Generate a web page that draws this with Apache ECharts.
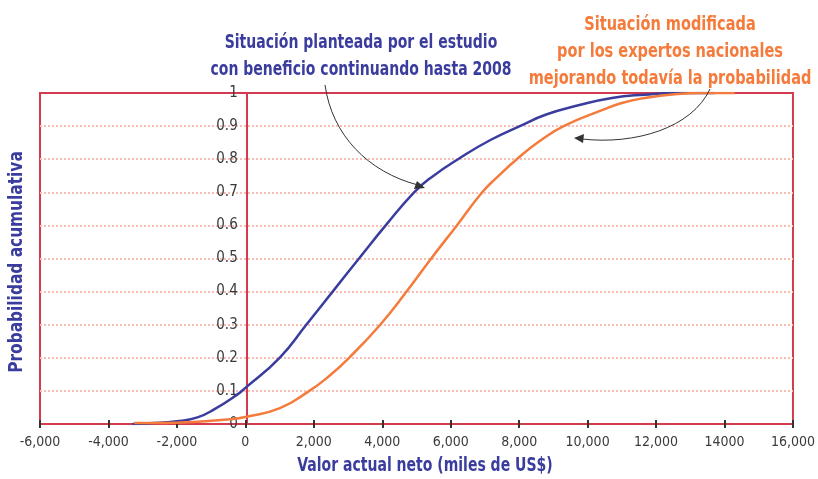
<!DOCTYPE html>
<html>
<head>
<meta charset="utf-8">
<script src="https://cdn.jsdelivr.net/npm/echarts@6/dist/echarts.min.js"></script>
<style>
  html, body { margin: 0; padding: 0; background: #fff; }
  #main { width: 818px; height: 479px; }
</style>
</head>
<body>
<div id="main"></div>
<script>
// eje x en miles de US$, eje y probabilidad acumulada
var xMin = -6000, xMax = 16000, xStep = 2000;
var xTickLabels = ['-6,000', '-4,000', '-2,000', '0', '2,000', '4,000', '6,000', '8,000', '10,000', '12,000', '14000', '16,000'];
var yTickLabels = ['0', '0.1', '0.2', '0.3', '0.4', '0.5', '0.6', '0.7', '0.8', '0.9', '1'];

// Situación planteada por el estudio (azul)
var planteadaX = [-3300, -2800, -2000, -1400, -900, -250, 0, 1000, 1780, 2550, 3320, 4100, 4930, 5430, 6290, 7160, 8020, 8790, 9700, 10710, 11670, 12630, 13700];
var planteadaY = [0, 0.002, 0.008, 0.02, 0.045, 0.088, 0.109, 0.2, 0.3, 0.4, 0.5, 0.6, 0.7, 0.745, 0.805, 0.858, 0.9, 0.935, 0.962, 0.985, 0.995, 1, 1];

// Situación modificada por los expertos (naranja)
var modificadaX = [-3250, -2400, -1400, -430, 0, 1010, 1870, 2450, 3030, 3940, 4710, 5430, 6180, 6920, 7350, 7930, 8600, 9300, 10420, 11000, 11670, 12630, 13300, 14300];
var modificadaY = [0.003, 0.003, 0.007, 0.014, 0.021, 0.048, 0.1, 0.145, 0.2, 0.3, 0.4, 0.5, 0.6, 0.7, 0.745, 0.8, 0.855, 0.9, 0.948, 0.97, 0.985, 0.997, 1, 1];

var RED = '#d43a4e';
var BLUE = '#3a3c9e';
var ORANGE = '#f47b3b';
var FONT = '"Liberation Sans Narrow", "DejaVu Sans Condensed", sans-serif';

var W = 818, H = 479;
var gridLeft = 40, gridRight = 20;
// el eje y se dibuja sobre x = 0
var yAxisOffset = -(W - gridLeft - gridRight) * (0 - xMin) / (xMax - xMin);

function pairs(xs, ys) {
  return xs.map(function (x, i) { return [x, ys[i]]; });
}

var chart = echarts.init(document.getElementById('main'));

var option = {
  backgroundColor: '#fff',
  animation: false,
  grid: {
    left: gridLeft, right: gridRight, top: 93, bottom: 55,
    show: true, borderColor: RED, borderWidth: 2, backgroundColor: 'transparent'
  },
  xAxis: [
    {
      type: 'value', min: xMin, max: xMax, interval: xStep,
      axisLine: { onZero: false, lineStyle: { color: RED, width: 2 } },
      axisTick: { show: true, length: 4, lineStyle: { color: '#333', width: 2 } },
      axisLabel: {
        fontFamily: FONT, fontSize: 14, color: '#3a3a3a', margin: 11,
        formatter: function (v) { return xTickLabels[Math.round((v - xMin) / xStep)]; }
      },
      splitLine: { show: false }
    },
    {
      type: 'value', min: xMin, max: xMax, interval: xStep, position: 'bottom',
      axisLine: { show: false, onZero: false },
      axisTick: { show: true, inside: true, length: 4, lineStyle: { color: '#333', width: 2 } },
      axisLabel: { show: false },
      splitLine: { show: false }
    }
  ],
  yAxis: {
    type: 'value', min: 0, max: 1, interval: 0.1, position: 'left', offset: yAxisOffset,
    axisLine: { show: true, onZero: false, lineStyle: { color: RED, width: 2 } },
    axisTick: { show: false },
    axisLabel: {
      fontFamily: FONT, fontSize: 15, color: '#3a3a3a', margin: 9,
      formatter: function (v) { return yTickLabels[Math.round(v * 10)]; }
    },
    splitLine: {
      show: true, showMinLine: false, showMaxLine: false,
      lineStyle: { color: '#f6bdb5', type: 'dotted', width: 2 }
    }
  },
  series: [
    {
      name: 'planteada', type: 'line', data: pairs(planteadaX, planteadaY),
      smooth: 0.5, showSymbol: false,
      lineStyle: { color: BLUE, width: 2.5 }, z: 3
    },
    {
      name: 'modificada', type: 'line', data: pairs(modificadaX, modificadaY),
      smooth: 0.5, showSymbol: false,
      lineStyle: { color: ORANGE, width: 2.5 }, z: 4
    }
  ],
  graphic: [
    {
      type: 'text', x: 17, y: 262, rotation: Math.PI / 2, scaleX: 0.9,
      style: { text: 'Probabilidad acumulativa', fill: BLUE, font: 'bold 19px ' + FONT, align: 'center', verticalAlign: 'middle' }
    },
    {
      type: 'text', x: 425, y: 466, scaleX: 0.82,
      style: { text: 'Valor actual neto (miles de US$)', fill: BLUE, font: 'bold 19px ' + FONT, align: 'center', verticalAlign: 'middle' }
    },
    {
      type: 'text', x: 361, y: 57, scaleX: 0.82,
      style: { text: 'Situación planteada por el estudio\ncon beneficio continuando hasta 2008', fill: BLUE, font: 'bold 19px ' + FONT, lineHeight: 27, align: 'center', verticalAlign: 'middle' }
    },
    {
      type: 'text', x: 670, y: 52, scaleX: 0.85,
      style: { text: 'Situación modificada\npor los expertos nacionales\nmejorando todavía la probabilidad', fill: ORANGE, font: 'bold 19px ' + FONT, lineHeight: 27, align: 'center', verticalAlign: 'middle' }
    },
    // flecha hacia la curva azul
    {
      type: 'bezierCurve',
      shape: { x1: 325, y1: 85, cpx1: 332, cpy1: 135, cpx2: 368, cpy2: 172, x2: 418, y2: 185 },
      style: { stroke: '#333', lineWidth: 1, fill: null }, z: 10
    },
    {
      type: 'polygon',
      shape: { points: [[425, 188], [414, 189], [417, 181]] },
      style: { fill: '#333' }, z: 10
    },
    // flecha hacia la curva naranja
    {
      type: 'bezierCurve',
      shape: { x1: 710, y1: 89, cpx1: 692, cpy1: 128, cpx2: 635, cpy2: 145, x2: 582, y2: 139 },
      style: { stroke: '#333', lineWidth: 1, fill: null }, z: 10
    },
    {
      type: 'polygon',
      shape: { points: [[574, 138], [584, 134], [583, 143]] },
      style: { fill: '#333' }, z: 10
    }
  ]
};

chart.setOption(option);
</script>
</body>
</html>
